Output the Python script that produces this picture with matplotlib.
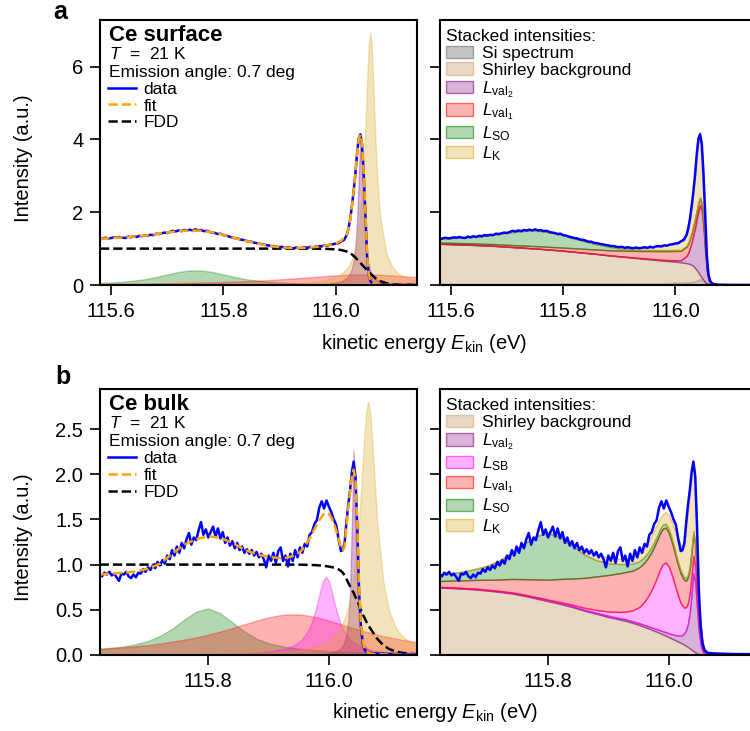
import matplotlib
matplotlib.use('Agg')
import matplotlib.pyplot as plt
import numpy as np
from matplotlib.colors import to_rgba
from matplotlib.ticker import FormatStrFormatter

plt.rcParams['font.family'] = ['Liberation Sans', 'DejaVu Sans']
plt.rcParams['mathtext.fontset'] = 'custom'
plt.rcParams['mathtext.rm'] = 'Liberation Sans'
plt.rcParams['mathtext.it'] = 'Liberation Sans:italic'
plt.rcParams['mathtext.bf'] = 'Liberation Sans:bold'
plt.rcParams['axes.linewidth'] = 1.5

# ---------------- panel a: Ce surface ----------------
e_surf = [115.58, 115.60, 115.62, 115.64, 115.66, 115.68, 115.70, 115.72, 115.74, 115.76,
          115.78, 115.80, 115.82, 115.84, 115.86, 115.88, 115.90, 115.92, 115.94, 115.96,
          115.98, 116.00, 116.01, 116.02, 116.023, 116.026, 116.029, 116.032, 116.035, 116.038,
          116.041, 116.044, 116.047, 116.05, 116.053, 116.056, 116.059, 116.062, 116.065, 116.068,
          116.071, 116.074, 116.077, 116.08, 116.09, 116.10, 116.11, 116.12, 116.135, 116.15]

surf_so = [0.06, 0.07, 0.09, 0.12, 0.16, 0.22, 0.29, 0.36, 0.40, 0.40,
           0.36, 0.29, 0.22, 0.16, 0.12, 0.09, 0.07, 0.055, 0.045, 0.038,
           0.032, 0.028, 0.026, 0.024, 0.023, 0.023, 0.022, 0.022, 0.021, 0.021,
           0.021, 0.020, 0.020, 0.020, 0.019, 0.019, 0.019, 0.018, 0.018, 0.018,
           0.018, 0.017, 0.017, 0.017, 0.017, 0.016, 0.015, 0.015, 0.014, 0.013]
surf_val1 = [0.030, 0.033, 0.035, 0.038, 0.042, 0.046, 0.050, 0.055, 0.061, 0.068,
             0.075, 0.084, 0.095, 0.107, 0.120, 0.136, 0.154, 0.175, 0.197, 0.220,
             0.243, 0.264, 0.273, 0.280, 0.283, 0.285, 0.287, 0.288, 0.289, 0.290,
             0.290, 0.290, 0.290, 0.290, 0.290, 0.290, 0.290, 0.290, 0.289, 0.288,
             0.287, 0.286, 0.285, 0.283, 0.273, 0.264, 0.254, 0.243, 0.226, 0.208]
surf_val2 = [0.001, 0.001, 0.001, 0.001, 0.001, 0.001, 0.001, 0.001, 0.002, 0.002,
             0.002, 0.002, 0.003, 0.003, 0.004, 0.005, 0.006, 0.008, 0.011, 0.018,
             0.030, 0.062, 0.102, 0.197, 0.252, 0.332, 0.456, 0.659, 1.015, 1.68,
             2.87, 4.10, 3.55, 2.16, 1.27, 0.80, 0.537, 0.383, 0.286, 0.221,
             0.175, 0.142, 0.117, 0.099, 0.061, 0.041, 0.029, 0.022, 0.016, 0.011]
surf_k = [0.004, 0.004, 0.004, 0.005, 0.005, 0.006, 0.006, 0.007, 0.008, 0.009,
          0.011, 0.012, 0.014, 0.017, 0.021, 0.025, 0.032, 0.042, 0.057, 0.081,
          0.124, 0.215, 0.303, 0.456, 0.524, 0.608, 0.713, 0.847, 1.02, 1.25,
          1.55, 1.97, 2.54, 3.32, 4.35, 5.55, 6.60, 6.93, 6.30, 5.14,
          3.97, 3.03, 2.32, 1.81, 0.90, 0.524, 0.340, 0.237, 0.152, 0.106]
surf_fdd = [1.0, 1.0, 1.0, 1.0, 1.0, 1.0, 1.0, 1.0, 1.0, 1.0,
            1.0, 1.0, 1.0, 1.0, 1.0, 1.0, 1.0, 1.0, 1.0, 1.0,
            0.995, 0.98, 0.96, 0.92, 0.90, 0.87, 0.84, 0.80, 0.76, 0.71,
            0.66, 0.61, 0.56, 0.51, 0.46, 0.41, 0.36, 0.31, 0.27, 0.23,
            0.19, 0.16, 0.13, 0.105, 0.05, 0.025, 0.012, 0.006, 0.002, 0.001]
surf_fit = [1.27, 1.29, 1.31, 1.33, 1.36, 1.40, 1.44, 1.48, 1.50, 1.49,
            1.45, 1.38, 1.29, 1.21, 1.14, 1.08, 1.04, 1.02, 1.02, 1.04,
            1.08, 1.14, 1.22, 1.38, 1.55, 1.80, 2.15, 2.55, 3.00, 3.55,
            4.00, 4.13, 3.90, 3.10, 2.00, 0.85, 0.30, 0.12, 0.06, 0.04,
            0.025, 0.018, 0.013, 0.010, 0.006, 0.004, 0.003, 0.002, 0.002, 0.001]

# stacked contributions (bottom to top)
surf_st_si = [0.03, 0.03, 0.03, 0.03, 0.03, 0.03, 0.03, 0.03, 0.03, 0.03,
              0.03, 0.04, 0.04, 0.04, 0.04, 0.04, 0.04, 0.04, 0.05, 0.05,
              0.05, 0.06, 0.06, 0.07, 0.07, 0.08, 0.08, 0.09, 0.10, 0.12,
              0.14, 0.16, 0.14, 0.11, 0.07, 0.04, 0.02, 0.01, 0.005, 0.003,
              0.0, 0.0, 0.0, 0.0, 0.0, 0.0, 0.0, 0.0, 0.0, 0.0]
surf_st_shirley = [1.10, 1.09, 1.08, 1.07, 1.055, 1.04, 1.02, 1.00, 0.98, 0.96,
                   0.935, 0.90, 0.87, 0.84, 0.81, 0.775, 0.745, 0.715, 0.675, 0.645,
                   0.615, 0.58, 0.56, 0.53, 0.52, 0.495, 0.475, 0.43, 0.37, 0.29,
                   0.20, 0.11, 0.06, 0.03, 0.01, 0.005, 0.0, 0.0, 0.0, 0.0,
                   0.0, 0.0, 0.0, 0.0, 0.0, 0.0, 0.0, 0.0, 0.0, 0.0]
surf_st_val2 = [0.005, 0.005, 0.005, 0.005, 0.005, 0.005, 0.005, 0.005, 0.005, 0.005,
                0.005, 0.005, 0.005, 0.005, 0.005, 0.005, 0.008, 0.01, 0.013, 0.018,
                0.025, 0.04, 0.06, 0.20, 0.30, 0.45, 0.62, 0.85, 1.10, 1.40,
                1.70, 1.92, 1.85, 1.45, 0.85, 0.35, 0.12, 0.04, 0.015, 0.005,
                0.0, 0.0, 0.0, 0.0, 0.0, 0.0, 0.0, 0.0, 0.0, 0.0]
surf_st_val1 = [0.03, 0.033, 0.035, 0.038, 0.042, 0.046, 0.05, 0.055, 0.061, 0.068,
                0.075, 0.084, 0.095, 0.107, 0.12, 0.136, 0.154, 0.175, 0.197, 0.22,
                0.24, 0.255, 0.26, 0.255, 0.25, 0.245, 0.24, 0.235, 0.23, 0.22,
                0.21, 0.20, 0.18, 0.16, 0.12, 0.08, 0.05, 0.03, 0.02, 0.012,
                0.008, 0.005, 0.003, 0.002, 0.0, 0.0, 0.0, 0.0, 0.0, 0.0]
surf_st_so = [0.10, 0.13, 0.16, 0.18, 0.22, 0.27, 0.33, 0.38, 0.42, 0.42,
              0.39, 0.34, 0.27, 0.20, 0.14, 0.10, 0.06, 0.04, 0.03, 0.03,
              0.03, 0.028, 0.026, 0.024, 0.023, 0.022, 0.021, 0.02, 0.02, 0.019,
              0.018, 0.017, 0.016, 0.014, 0.012, 0.01, 0.008, 0.006, 0.005, 0.004,
              0.003, 0.002, 0.002, 0.001, 0.0, 0.0, 0.0, 0.0, 0.0, 0.0]
surf_st_k = [0.004, 0.004, 0.004, 0.005, 0.005, 0.006, 0.006, 0.007, 0.008, 0.009,
             0.011, 0.012, 0.014, 0.017, 0.021, 0.025, 0.032, 0.042, 0.057, 0.08,
             0.12, 0.18, 0.25, 0.30, 0.39, 0.51, 0.71, 0.93, 1.18, 1.50,
             1.73, 1.80, 1.65, 1.34, 0.94, 0.37, 0.10, 0.03, 0.015, 0.01,
             0.005, 0.003, 0.002, 0.001, 0.0, 0.0, 0.0, 0.0, 0.0, 0.0]

# measured spectrum: 5 meV steps from 115.58 eV, then the fine grid of e_surf[24:]
surf_data_lo = [1.26, 1.28, 1.30, 1.28, 1.29, 1.31, 1.30, 1.32, 1.30, 1.29,
                1.33, 1.31, 1.34, 1.32, 1.35, 1.34, 1.37, 1.36, 1.38, 1.37,
                1.41, 1.40, 1.42, 1.44, 1.43, 1.46, 1.49, 1.47, 1.50, 1.48,
                1.51, 1.50, 1.52, 1.50, 1.53, 1.50, 1.51, 1.48, 1.49, 1.46,
                1.44, 1.43, 1.40, 1.41, 1.37, 1.36, 1.33, 1.31, 1.29, 1.28,
                1.25, 1.24, 1.22, 1.19, 1.19, 1.16, 1.15, 1.13, 1.12, 1.10,
                1.09, 1.07, 1.07, 1.05, 1.04, 1.05, 1.02, 1.04, 1.02, 1.01,
                1.03, 1.01, 1.02, 1.04, 1.02, 1.05, 1.03, 1.06, 1.07, 1.06,
                1.09, 1.08, 1.11, 1.12, 1.14, 1.15, 1.20, 1.24, 1.38]
surf_data_hi = [1.56, 1.82, 2.17, 2.56, 3.02, 3.58, 4.02, 4.14, 3.88, 3.05,
                1.98, 0.82, 0.28, 0.11, 0.05, 0.03, 0.02, 0.015, 0.01, 0.01,
                0.005, 0.004, 0.003, 0.003, 0.002, 0.002]

# ---------------- panel b: Ce bulk ----------------
e_bulk = [115.62, 115.64, 115.66, 115.68, 115.70, 115.72, 115.74, 115.76, 115.78, 115.80,
          115.82, 115.84, 115.86, 115.88, 115.90, 115.92, 115.93, 115.94, 115.95, 115.955,
          115.96, 115.965, 115.97, 115.975, 115.98, 115.985, 115.99, 115.995, 116.00, 116.005,
          116.01, 116.015, 116.02, 116.023, 116.026, 116.029, 116.032, 116.035, 116.038, 116.041,
          116.044, 116.047, 116.05, 116.053, 116.056, 116.059, 116.062, 116.065, 116.068, 116.071,
          116.074, 116.077, 116.08, 116.09, 116.10, 116.11, 116.12, 116.135, 116.15]

bulk_so = [0.07, 0.08, 0.095, 0.12, 0.155, 0.21, 0.29, 0.39, 0.48, 0.515,
           0.46, 0.36, 0.26, 0.18, 0.13, 0.10, 0.087, 0.077, 0.069, 0.065,
           0.062, 0.059, 0.056, 0.053, 0.050, 0.048, 0.046, 0.044, 0.042, 0.040,
           0.038, 0.037, 0.035, 0.034, 0.033, 0.033, 0.032, 0.031, 0.031, 0.030,
           0.030, 0.029, 0.029, 0.028, 0.028, 0.027, 0.027, 0.026, 0.026, 0.025,
           0.025, 0.025, 0.024, 0.023, 0.021, 0.020, 0.019, 0.017, 0.016]
bulk_val1 = [0.065, 0.075, 0.085, 0.097, 0.11, 0.127, 0.148, 0.17, 0.195, 0.225,
             0.259, 0.298, 0.339, 0.38, 0.416, 0.441, 0.448, 0.45, 0.448, 0.445,
             0.441, 0.436, 0.43, 0.423, 0.416, 0.408, 0.399, 0.39, 0.38, 0.37,
             0.36, 0.35, 0.339, 0.333, 0.327, 0.32, 0.314, 0.308, 0.302, 0.296,
             0.29, 0.284, 0.278, 0.273, 0.267, 0.261, 0.256, 0.25, 0.245, 0.24,
             0.235, 0.23, 0.225, 0.209, 0.195, 0.182, 0.17, 0.153, 0.138]
bulk_sb = [0.0025, 0.0027, 0.0031, 0.0035, 0.004, 0.0046, 0.0053, 0.0062, 0.0074, 0.009,
           0.011, 0.014, 0.019, 0.026, 0.037, 0.058, 0.075, 0.101, 0.143, 0.173,
           0.214, 0.267, 0.338, 0.434, 0.555, 0.694, 0.816, 0.867, 0.816, 0.694,
           0.555, 0.434, 0.338, 0.293, 0.255, 0.223, 0.196, 0.173, 0.154, 0.138,
           0.124, 0.112, 0.101, 0.092, 0.084, 0.077, 0.071, 0.065, 0.060, 0.056,
           0.052, 0.049, 0.045, 0.037, 0.030, 0.026, 0.022, 0.017, 0.014]
bulk_val2 = [0.0002, 0.0002, 0.0002, 0.0003, 0.0003, 0.0003, 0.0004, 0.0004, 0.0005, 0.0006,
             0.0007, 0.0009, 0.0011, 0.0014, 0.0018, 0.0025, 0.0029, 0.0036, 0.0044, 0.0049,
             0.0055, 0.0062, 0.0071, 0.0082, 0.0096, 0.0114, 0.0137, 0.017, 0.0213, 0.0276,
             0.037, 0.052, 0.079, 0.106, 0.150, 0.226, 0.373, 0.695, 1.446, 2.26,
             1.446, 0.695, 0.373, 0.226, 0.150, 0.106, 0.079, 0.061, 0.0485, 0.0395,
             0.0327, 0.0276, 0.0235, 0.015, 0.0103, 0.0076, 0.0058, 0.0041, 0.003]
bulk_k = [0.0036, 0.004, 0.0043, 0.0048, 0.0054, 0.006, 0.0067, 0.0077, 0.0088, 0.0102,
          0.0119, 0.014, 0.017, 0.0208, 0.026, 0.0337, 0.039, 0.045, 0.053, 0.058,
          0.0636, 0.070, 0.077, 0.086, 0.096, 0.108, 0.122, 0.139, 0.160, 0.186,
          0.219, 0.26, 0.314, 0.355, 0.403, 0.462, 0.533, 0.62, 0.727, 0.862,
          1.029, 1.236, 1.49, 1.792, 2.127, 2.456, 2.705, 2.80, 2.705, 2.456,
          2.127, 1.792, 1.49, 0.814, 0.484, 0.314, 0.219, 0.139, 0.096]
bulk_fdd = [1.0, 1.0, 1.0, 1.0, 1.0, 1.0, 1.0, 1.0, 1.0, 1.0,
            1.0, 1.0, 1.0, 1.0, 1.0, 1.0, 1.0, 1.0, 0.999, 0.999,
            0.998, 0.997, 0.996, 0.995, 0.993, 0.99, 0.987, 0.983, 0.978, 0.972,
            0.963, 0.95, 0.93, 0.91, 0.88, 0.84, 0.80, 0.76, 0.72, 0.69,
            0.64, 0.60, 0.55, 0.50, 0.45, 0.41, 0.37, 0.33, 0.30, 0.27,
            0.24, 0.21, 0.18, 0.11, 0.065, 0.04, 0.025, 0.013, 0.006]
bulk_fit = [0.89, 0.90, 0.91, 0.925, 0.955, 1.01, 1.12, 1.22, 1.28, 1.315,
            1.295, 1.24, 1.165, 1.115, 1.085, 1.07, 1.075, 1.095, 1.13, 1.16,
            1.20, 1.255, 1.315, 1.38, 1.44, 1.50, 1.55, 1.575, 1.56, 1.51,
            1.42, 1.31, 1.19, 1.16, 1.20, 1.42, 1.62, 1.80, 1.97, 2.05,
            1.95, 1.45, 0.75, 0.35, 0.16, 0.07, 0.04, 0.025, 0.018, 0.014,
            0.012, 0.01, 0.009, 0.007, 0.005, 0.004, 0.003, 0.003, 0.002]

bulk_st_shirley = [0.745, 0.74, 0.733, 0.724, 0.712, 0.697, 0.68, 0.655, 0.625, 0.595,
                   0.565, 0.53, 0.49, 0.455, 0.42, 0.39, 0.375, 0.355, 0.335, 0.322,
                   0.31, 0.297, 0.284, 0.27, 0.257, 0.243, 0.228, 0.214, 0.198, 0.182,
                   0.166, 0.15, 0.134, 0.124, 0.112, 0.10, 0.087, 0.073, 0.058, 0.043,
                   0.03, 0.018, 0.009, 0.004, 0.0, 0.0, 0.0, 0.0, 0.0, 0.0,
                   0.0, 0.0, 0.0, 0.0, 0.0, 0.0, 0.0, 0.0, 0.0]
bulk_st_val2 = [0.005, 0.005, 0.005, 0.006, 0.006, 0.006, 0.007, 0.007, 0.008, 0.008,
                0.009, 0.01, 0.011, 0.012, 0.014, 0.016, 0.017, 0.018, 0.02, 0.021,
                0.022, 0.024, 0.025, 0.027, 0.03, 0.032, 0.035, 0.039, 0.043, 0.048,
                0.055, 0.065, 0.08, 0.10, 0.13, 0.18, 0.26, 0.40, 0.62, 0.86,
                0.78, 0.50, 0.25, 0.11, 0.04, 0.015, 0.006, 0.003, 0.0, 0.0,
                0.0, 0.0, 0.0, 0.0, 0.0, 0.0, 0.0, 0.0, 0.0]
bulk_st_sb = [0.003, 0.003, 0.003, 0.004, 0.004, 0.005, 0.006, 0.007, 0.008, 0.01,
              0.012, 0.016, 0.022, 0.032, 0.046, 0.07, 0.09, 0.12, 0.17, 0.21,
              0.26, 0.32, 0.39, 0.47, 0.56, 0.66, 0.74, 0.77, 0.74, 0.66,
              0.56, 0.45, 0.36, 0.32, 0.28, 0.25, 0.23, 0.21, 0.20, 0.19,
              0.17, 0.14, 0.10, 0.06, 0.025, 0.012, 0.006, 0.003, 0.0, 0.0,
              0.0, 0.0, 0.0, 0.0, 0.0, 0.0, 0.0, 0.0, 0.0]
bulk_st_val1 = [0.065, 0.075, 0.085, 0.097, 0.11, 0.127, 0.148, 0.17, 0.195, 0.22,
                0.255, 0.29, 0.33, 0.37, 0.405, 0.43, 0.437, 0.44, 0.44, 0.437,
                0.433, 0.428, 0.423, 0.417, 0.41, 0.402, 0.394, 0.385, 0.375, 0.364,
                0.352, 0.34, 0.325, 0.315, 0.305, 0.295, 0.285, 0.275, 0.265, 0.255,
                0.24, 0.215, 0.18, 0.14, 0.06, 0.03, 0.015, 0.008, 0.004, 0.002,
                0.0, 0.0, 0.0, 0.0, 0.0, 0.0, 0.0, 0.0, 0.0]
bulk_st_so = [0.07, 0.08, 0.095, 0.12, 0.155, 0.21, 0.29, 0.39, 0.48, 0.515,
              0.46, 0.36, 0.26, 0.18, 0.13, 0.10, 0.087, 0.077, 0.069, 0.065,
              0.062, 0.059, 0.056, 0.053, 0.05, 0.048, 0.046, 0.044, 0.042, 0.04,
              0.038, 0.036, 0.034, 0.032, 0.031, 0.029, 0.027, 0.025, 0.023, 0.021,
              0.019, 0.017, 0.015, 0.013, 0.011, 0.009, 0.005, 0.004, 0.003, 0.002,
              0.001, 0.0, 0.0, 0.0, 0.0, 0.0, 0.0, 0.0, 0.0]
bulk_st_k = [0.003, 0.003, 0.004, 0.005, 0.005, 0.006, 0.007, 0.008, 0.009, 0.01,
             0.015, 0.025, 0.04, 0.055, 0.065, 0.06, 0.065, 0.075, 0.085, 0.095,
             0.10, 0.11, 0.12, 0.13, 0.13, 0.12, 0.11, 0.13, 0.15, 0.18,
             0.21, 0.25, 0.29, 0.30, 0.35, 0.57, 0.73, 0.82, 0.80, 0.68,
             0.71, 0.56, 0.20, 0.03, 0.01, 0.005, 0.0, 0.0, 0.0, 0.0,
             0.0, 0.0, 0.0, 0.0, 0.0, 0.0, 0.0, 0.0, 0.0]

# measured spectrum: 4 meV steps from 115.62 eV, then the fine grid of e_bulk[33:]
bulk_data_lo = [0.90, 0.87, 0.91, 0.89, 0.92, 0.88, 0.90, 0.86, 0.82, 0.90,
                0.89, 0.92, 0.87, 0.85, 0.89, 0.86, 0.91, 0.90, 0.95, 0.92,
                0.97, 0.94, 0.99, 0.96, 1.03, 0.99, 1.05, 1.01, 1.10, 1.06,
                1.16, 1.10, 1.20, 1.13, 1.24, 1.18, 1.28, 1.35, 1.22, 1.30,
                1.27, 1.38, 1.47, 1.33, 1.39, 1.30, 1.36, 1.42, 1.31, 1.40,
                1.29, 1.36, 1.24, 1.30, 1.21, 1.26, 1.18, 1.24, 1.16, 1.20,
                1.13, 1.17, 1.12, 1.16, 1.10, 1.14, 1.08, 1.12, 1.06, 0.97,
                1.10, 1.04, 1.13, 1.02, 1.15, 1.19, 1.04, 1.10, 0.98, 1.12,
                1.04, 1.16, 1.08, 1.19, 1.13, 1.23, 1.20, 1.33, 1.36, 1.45,
                1.49, 1.63, 1.70, 1.62, 1.71, 1.64, 1.58, 1.50, 1.44, 1.28,
                1.15]
bulk_data_hi = [1.16, 1.24, 1.46, 1.66, 1.82, 2.02, 2.14, 1.98, 1.42, 0.70,
                0.32, 0.13, 0.06, 0.035, 0.025, 0.02, 0.02, 0.018, 0.017, 0.016,
                0.014, 0.012, 0.01, 0.01, 0.009, 0.008]

e_surf_data = np.concatenate([115.58 + 0.005 * np.arange(len(surf_data_lo)), e_surf[24:]])
surf_data = surf_data_lo + surf_data_hi
e_bulk_data = np.concatenate([115.62 + 0.004 * np.arange(len(bulk_data_lo)), e_bulk[33:]])
bulk_data = bulk_data_lo + bulk_data_hi

FS_TICK = 14.5
FS_LEG = 12.5


def style_axes(ax, xlim, ylim, xticks, yticks, yfmt, labels=True):
    ax.set_xlim(*xlim)
    ax.set_ylim(*ylim)
    ax.set_xticks(xticks)
    ax.set_yticks(yticks)
    ax.xaxis.set_major_formatter(FormatStrFormatter('%.1f'))
    ax.yaxis.set_major_formatter(FormatStrFormatter(yfmt))
    ax.tick_params(direction='out', length=7, width=1.2, labelsize=FS_TICK, pad=5,
                   labelleft=labels)


def draw_fit(ax, e, comps, e_data, data, fit, fdd, name):
    for vals, color in comps:
        ax.fill_between(e, vals, color=color, alpha=0.3, lw=1)
    l_fdd, = ax.plot(e, fdd, '--', color='k', lw=1.8)
    l_data, = ax.plot(e_data, data, color='b', lw=1.8)
    l_fit, = ax.plot(e, fit, '--', color='orange', lw=1.8)
    ax.text(0.028, 0.943, name, transform=ax.transAxes, fontsize=16,
            fontweight='bold', va='center')
    ax.text(0.028, 0.872, '$T$  =  21 K', transform=ax.transAxes,
            fontsize=FS_LEG, va='center')
    ax.text(0.028, 0.803, 'Emission angle: 0.7 deg', transform=ax.transAxes,
            fontsize=FS_LEG, va='center')
    ax.legend([l_data, l_fit, l_fdd], ['data', 'fit', 'FDD'], loc='upper left',
              bbox_to_anchor=(0.025, 0.768), frameon=False, borderpad=0,
              borderaxespad=0, handlelength=1.6, handletextpad=0.45,
              labelspacing=0.1, fontsize=FS_LEG)


def draw_stack(ax, e, layers, e_data, data):
    polys = ax.stackplot(e, *[v for v, c, a, lab in layers],
                         labels=[lab for v, c, a, lab in layers],
                         colors=[to_rgba(c, a) for v, c, a, lab in layers])
    for p, (v, c, a, lab) in zip(polys, layers):
        p.set_edgecolor(to_rgba(c, min(1.0, a + 0.25)))
        p.set_linewidth(1.0)
    ax.plot(e_data, data, color='b', lw=1.8)
    ax.legend(loc='upper left', bbox_to_anchor=(0.02, 0.967), frameon=False,
              borderpad=0, borderaxespad=0, handlelength=1.55,
              handletextpad=0.5, labelspacing=0.1, fontsize=FS_LEG,
              title='Stacked intensities:', title_fontsize=FS_LEG,
              alignment='left')


fig = plt.figure(figsize=(7.5, 7.31), dpi=100)
ax_a1 = fig.add_axes([0.1333, 0.6101, 0.4227, 0.3625])
ax_a2 = fig.add_axes([0.5863, 0.6101, 0.4227, 0.3625])
ax_b1 = fig.add_axes([0.1333, 0.1040, 0.4227, 0.3635])
ax_b2 = fig.add_axes([0.5863, 0.1040, 0.4227, 0.3635])

# panel a
draw_fit(ax_a1, e_surf,
         [(surf_so, 'green'), (surf_val1, 'red'), (surf_val2, 'purple'), (surf_k, 'goldenrod')],
         e_surf_data, surf_data, surf_fit, surf_fdd, 'Ce surface')
draw_stack(ax_a2, e_surf,
           [(surf_st_si, 'gray', 0.45, 'Si spectrum'),
            (surf_st_shirley, 'tan', 0.5, 'Shirley background'),
            (surf_st_val2, 'purple', 0.3, r'$L_{\mathrm{val}_2}$'),
            (surf_st_val1, 'red', 0.3, r'$L_{\mathrm{val}_1}$'),
            (surf_st_so, 'green', 0.3, r'$L_{\mathrm{SO}}$'),
            (surf_st_k, 'goldenrod', 0.3, r'$L_{\mathrm{K}}$')],
           e_surf_data, surf_data)
for ax, lab in ((ax_a1, True), (ax_a2, False)):
    style_axes(ax, (115.58, 116.145), (0, 7.28), [115.6, 115.8, 116.0], [0, 2, 4, 6],
               '%d', labels=lab)

# panel b
draw_fit(ax_b1, e_bulk,
         [(bulk_so, 'green'), (bulk_val1, 'red'), (bulk_sb, 'magenta'),
          (bulk_val2, 'purple'), (bulk_k, 'goldenrod')],
         e_bulk_data, bulk_data, bulk_fit, bulk_fdd, 'Ce bulk')
draw_stack(ax_b2, e_bulk,
           [(bulk_st_shirley, 'tan', 0.5, 'Shirley background'),
            (bulk_st_val2, 'purple', 0.3, r'$L_{\mathrm{val}_2}$'),
            (bulk_st_sb, 'magenta', 0.3, r'$L_{\mathrm{SB}}$'),
            (bulk_st_val1, 'red', 0.3, r'$L_{\mathrm{val}_1}$'),
            (bulk_st_so, 'green', 0.3, r'$L_{\mathrm{SO}}$'),
            (bulk_st_k, 'goldenrod', 0.3, r'$L_{\mathrm{K}}$')],
           e_bulk_data, bulk_data)
for ax, lab in ((ax_b1, True), (ax_b2, False)):
    style_axes(ax, (115.6205, 116.146), (0, 2.94), [115.8, 116.0],
               [0.0, 0.5, 1.0, 1.5, 2.0, 2.5], '%.1f', labels=lab)

ax_a1.set_ylabel('Intensity (a.u.)', fontsize=FS_TICK)
ax_a1.yaxis.set_label_coords(-0.211, 0.48)
ax_b1.set_ylabel('Intensity (a.u.)', fontsize=FS_TICK)
ax_b1.yaxis.set_label_coords(-0.211, 0.445)

xlab = r'kinetic energy $E_{\mathrm{kin}}$ (eV)'
fig.text(424 / 750, 1 - 343 / 731, xlab, fontsize=FS_TICK, ha='center', va='center')
fig.text(435 / 750, 1 - 713 / 731, xlab, fontsize=FS_TICK, ha='center', va='center')

fig.text(60 / 750, 1 - 12 / 731, 'a', fontsize=18, fontweight='bold', ha='center', va='center')
fig.text(63 / 750, 1 - 377 / 731, 'b', fontsize=18, fontweight='bold', ha='center', va='center')

fig.savefig('out.png', dpi=100)
plt.close(fig)
